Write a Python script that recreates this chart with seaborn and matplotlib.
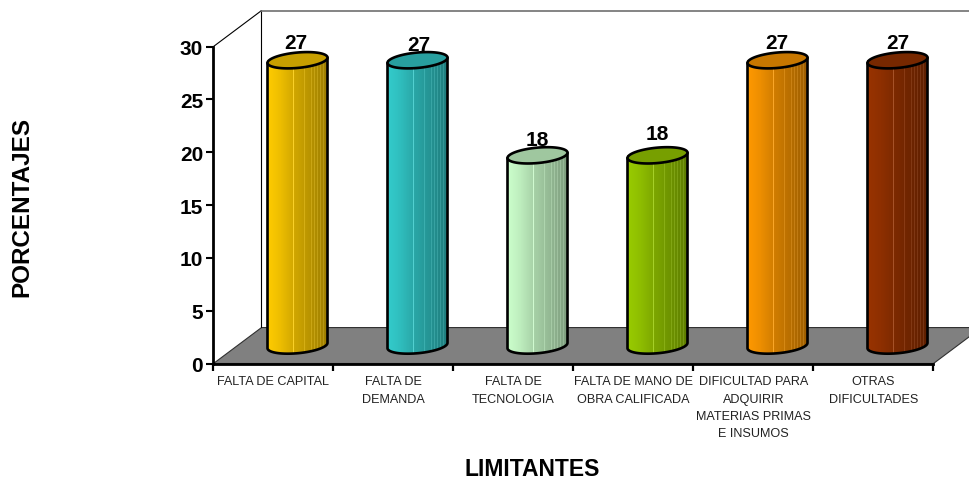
import numpy as np
import pandas as pd
import matplotlib
matplotlib.use("Agg")
import matplotlib.pyplot as plt
import seaborn as sns
from matplotlib.patches import Polygon

categorias = ["FALTA DE CAPITAL", "FALTA DE\nDEMANDA", "FALTA DE\nTECNOLOGIA",
              "FALTA DE MANO DE\nOBRA CALIFICADA",
              "DIFICULTAD PARA\nADQUIRIR\nMATERIAS PRIMAS\nE INSUMOS",
              "OTRAS\nDIFICULTADES"]
valores = [27, 27, 18, 18, 27, 27]
colores = ["#FFCC00", "#33CCCC", "#CCFFCC", "#99CC00", "#FF9900", "#993300"]
y_ticks = [0, 5, 10, 15, 20, 25, 30]

# ajustes de las etiquetas respecto al cilindro (px)
nudge_x = [-2, 1, 0, 0, -1, 0]
nudge_y = [0, -2, -2, 4, 0, 0]

W, H = 970, 481
DEPTH_X = 0.4    # profundidad del piso en unidades de datos
DEPTH_Y = 3.4
BAR_W = 0.5
ELL_B = 0.73
ELL_S = 0.25     # inclinacion de la elipse
LW = 1.9

sns.set_theme(style="white")
plt.rcParams["font.family"] = ["Liberation Sans", "DejaVu Sans"]

fig = plt.figure(figsize=(W / 100, H / 100), dpi=100)
ax = fig.add_axes([213.5 / W, 1 - 364.5 / H, 720 / W, 317 / H])

df = pd.DataFrame({"limitante": categorias, "valor": valores})
sns.barplot(data=df, x="limitante", y="valor", hue="limitante", palette=colores,
            width=BAR_W, legend=False, saturation=1, ax=ax, zorder=3)


def elipse(cx, cy, t):
    dx = BAR_W / 2 * np.cos(t)
    return cx + dx, cy + ELL_B * np.sin(t) + ELL_S * dx / (BAR_W / 2)


# paredes y piso
x0, x1 = -0.5, 5.5
ax.add_patch(Polygon([(x0, 0), (x1, 0), (x1 + DEPTH_X, DEPTH_Y), (x0 + DEPTH_X, DEPTH_Y)],
                     closed=True, fc="#808080", ec="#303030", lw=0.8, clip_on=False, zorder=1))
ax.plot([x0, x0 + DEPTH_X, x0 + DEPTH_X], [30, 30 + DEPTH_Y, DEPTH_Y], color="black", lw=0.8, clip_on=False, zorder=1)
ax.plot([x0 + DEPTH_X, x1 + DEPTH_X], [30 + DEPTH_Y, 30 + DEPTH_Y], color="#707070", lw=1.2, clip_on=False, zorder=1)

# sombreado del cilindro, izquierda clara -> derecha oscura
sombra = np.concatenate([np.linspace(1.0, 0.93, 14), np.linspace(0.92, 0.8, 16),
                         np.linspace(0.8, 0.62, 30)])
franjas = [37, 44, 47, 50, 53, 56]
t_abajo = np.linspace(np.pi, 2 * np.pi, 60)
t_todo = np.linspace(0, 2 * np.pi, 90)

for i, (bar, val, col) in enumerate(zip(ax.patches, valores, colores)):
    bar.set_x(bar.get_x() + DEPTH_X / 2)
    bar.set_y(DEPTH_Y / 2)
    bar.set_edgecolor("none")
    cx = bar.get_x() + BAR_W / 2
    base = DEPTH_Y / 2
    techo = base + val
    rgb = np.array(matplotlib.colors.to_rgb(col))

    fila = sombra[:, None] * rgb
    fila[26] = np.minimum(fila[26] + 0.16, 1)
    for f in franjas:
        fila[f] = np.minimum(fila[f] + 0.08, 1)
    img = ax.imshow(fila[None, :, :], extent=[cx - BAR_W / 2, cx + BAR_W / 2, 0, techo + 1],
                    aspect="auto", interpolation="nearest", zorder=3.1, clip_on=True)

    xb, yb = elipse(cx, base, t_abajo)
    xt, yt = elipse(cx, techo, t_todo)
    cuerpo = Polygon(np.r_[np.c_[xb, yb], [[cx + BAR_W / 2, techo + ELL_S], [cx - BAR_W / 2, techo - ELL_S]]],
                     closed=True, fc="none", ec="black", lw=LW, clip_on=False, zorder=3.2, joinstyle="round")
    ax.add_patch(cuerpo)
    img.set_clip_path(cuerpo)
    ax.add_patch(Polygon(np.c_[xt, yt], closed=True, fc=rgb * 0.78, ec="black", lw=LW,
                         clip_on=False, zorder=3.3))
    ax.annotate(str(val), (cx, techo), xytext=(nudge_x[i] * 0.72, (8 + nudge_y[i]) * 0.72),
                textcoords="offset points", ha="center", va="bottom",
                fontsize=15, fontweight="bold", color="black", zorder=4)

ax.set_xlim(x0, x1)
ax.set_ylim(0, 30)
ax.set_xlabel("")
ax.set_ylabel("")
sns.despine(ax=ax)
for s in ["left", "bottom"]:
    ax.spines[s].set_linewidth(2.0)
    ax.spines[s].set_color("black")
    ax.spines[s].set_zorder(5)

ax.set_yticks(y_ticks)
ax.tick_params(axis="y", left=True, length=5, width=1.5, color="black", pad=2.5,
               labelsize=15, labelcolor="black")
for t in ax.get_yticklabels():
    t.set_fontweight("bold")

ax.set_xticks(np.arange(x0, x1 + 1), labels=[""] * 7)
ax.set_xticks(np.arange(6), labels=categorias, minor=True)
ax.tick_params(axis="x", which="major", bottom=True, length=5, width=1.6, color="black")
ax.tick_params(axis="x", which="minor", bottom=False, length=0, pad=8.5, labelsize=9.1, labelcolor="#222222")
for t in ax.get_xticklabels(minor=True):
    t.set_linespacing(1.58)

fig.text(22 / W, 1 - 207 / H, "PORCENTAJES", rotation=90, ha="center", va="center",
         fontsize=17.5, fontweight="bold", color="black")
fig.text(532 / W, 1 - 476 / H, "LIMITANTES", ha="center", va="baseline",
         fontsize=16.5, fontweight="bold", color="black")

fig.savefig("out.png", dpi=100)
